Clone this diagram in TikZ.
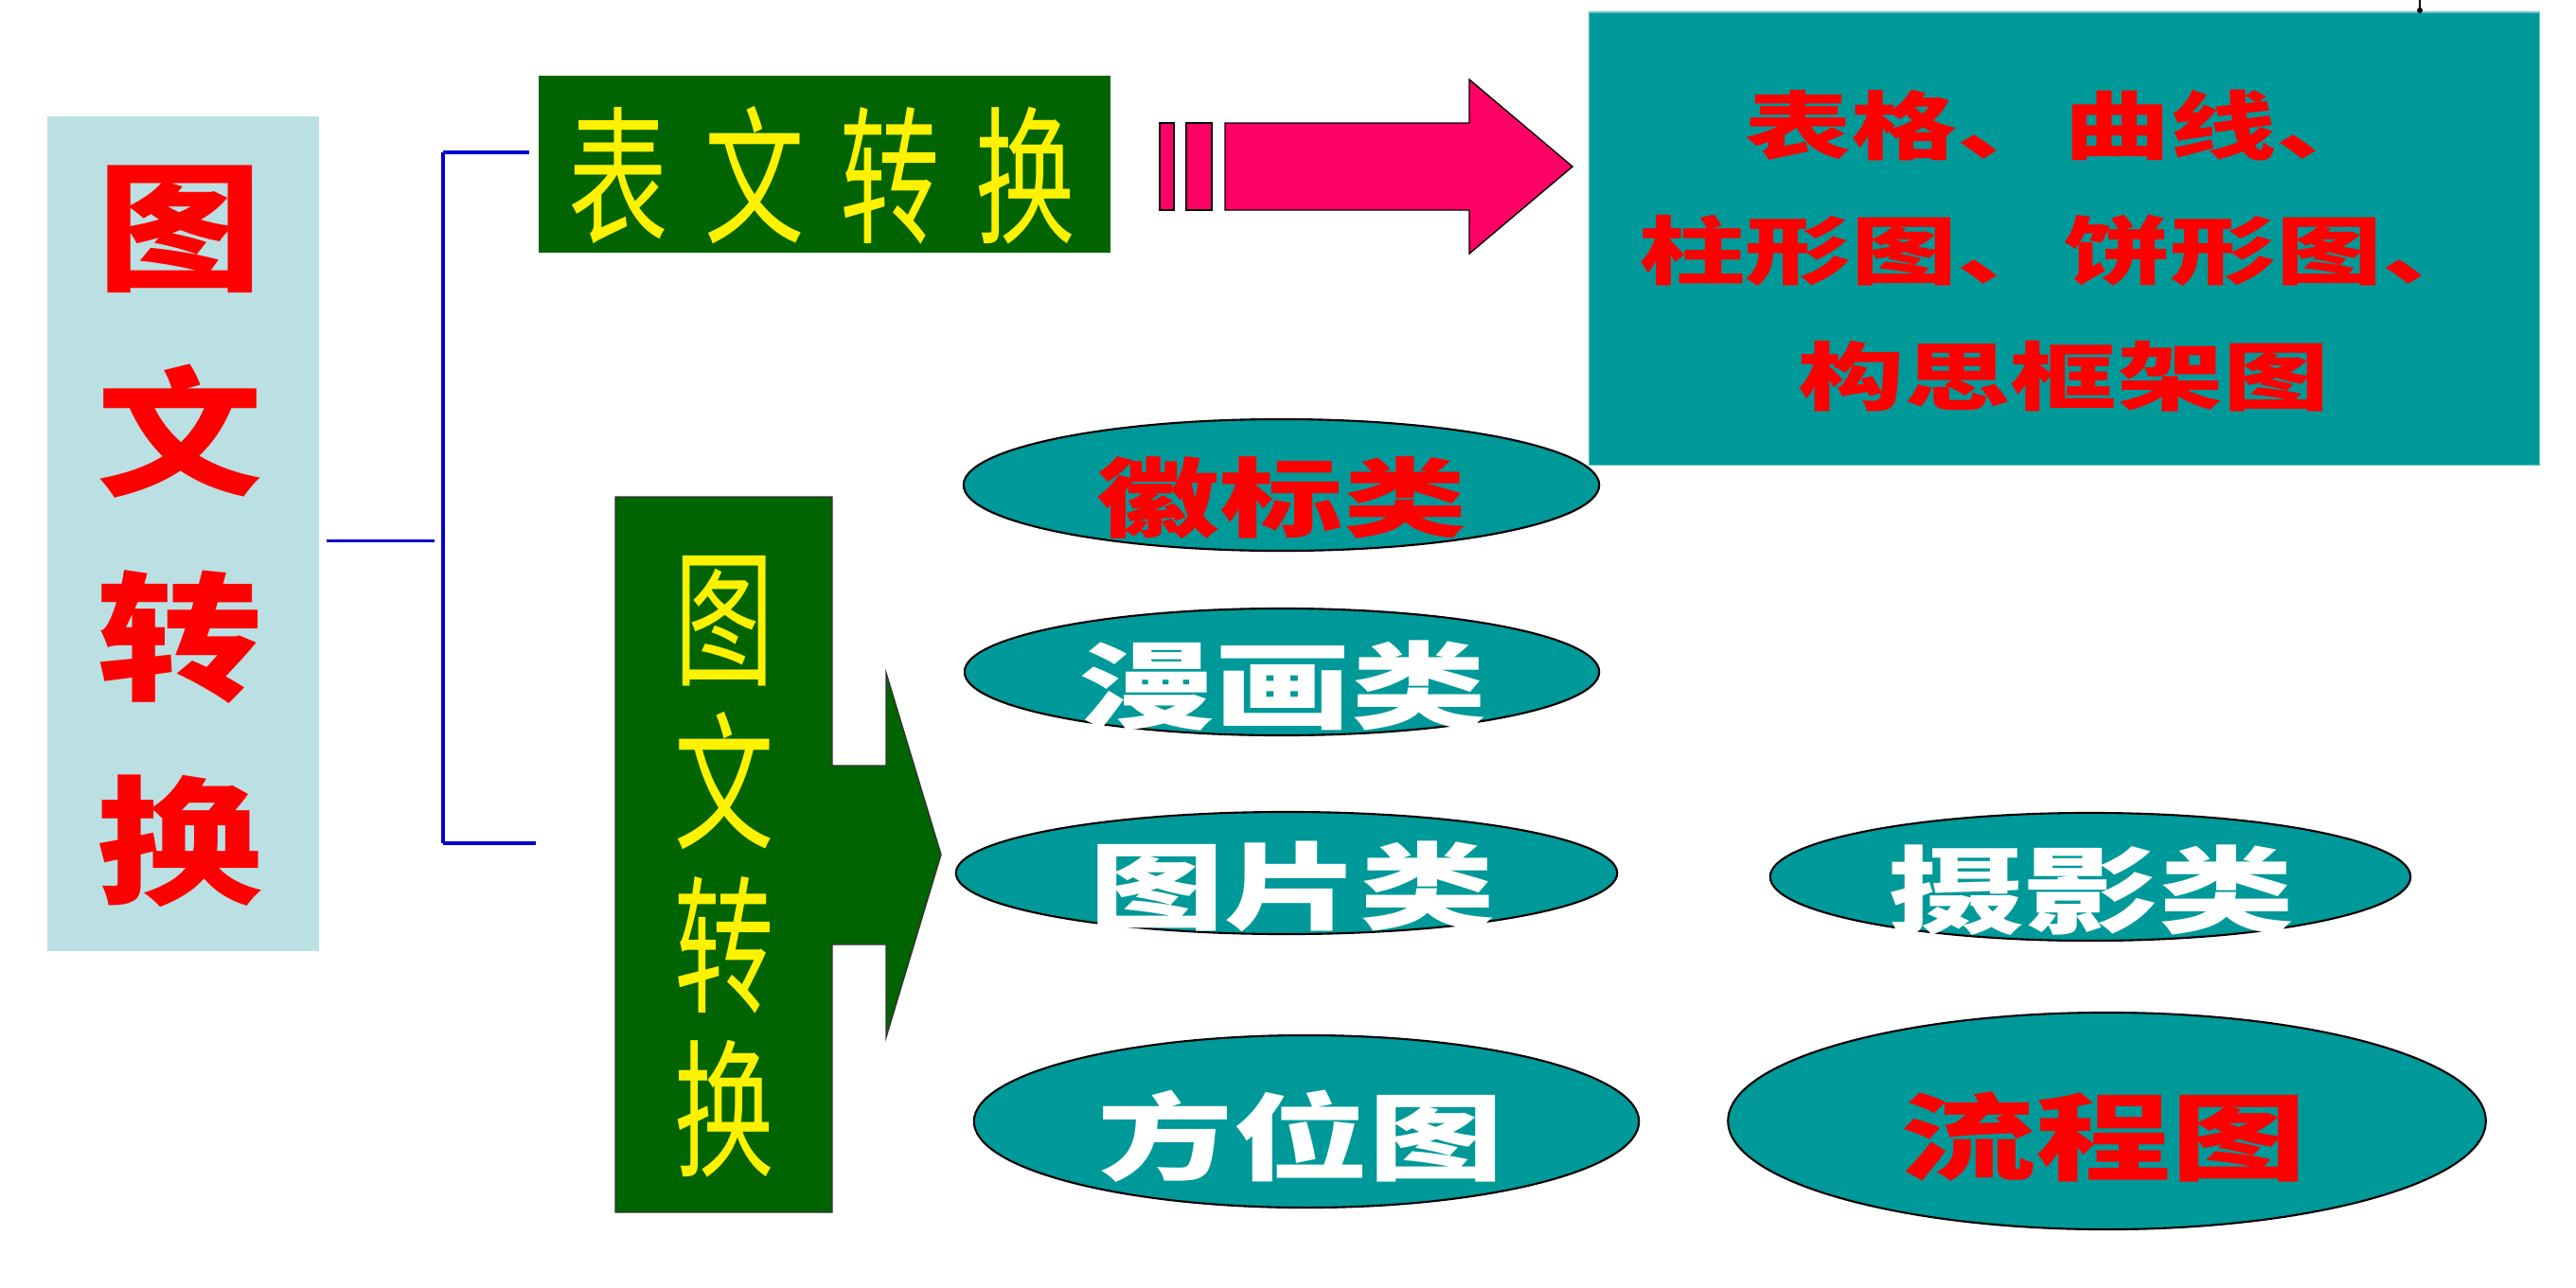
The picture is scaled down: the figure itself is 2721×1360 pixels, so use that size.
\documentclass[tikz,border=0pt]{standalone}
\usepackage{fontspec}
\usetikzlibrary{shapes.geometric}
\newfontfamily\cjk{Noto Sans CJK SC}
\definecolor{lightbox}{HTML}{BBE0E3}
\definecolor{dkgreen}{HTML}{006400}
\definecolor{tealfill}{HTML}{009999}
\definecolor{pinkarrow}{HTML}{FF0066}
\definecolor{bracketblue}{HTML}{0000CC}
\newcommand{\vsq}[1]{\scalebox{1}[0.7]{#1}}
\newcommand{\hsq}[1]{\scalebox{0.67}[1]{#1}}
\begin{document}
\begin{tikzpicture}[x=0.01cm,y=-0.01cm,
  every node/.style={inner sep=0pt,outer sep=0pt},
  bracketline/.style={draw=bracketblue,line width=1pt},
  oval/.style={ellipse,fill=tealfill,draw=black,line width=0.6pt},
  ovaltext/.style={font=\cjk\bfseries\fontsize{40.7pt}{44pt}\selectfont},
  yellowtext/.style={text=yellow,font=\cjk\fontsize{44.7pt}{49.2pt}\selectfont},
  pinkshape/.style={fill=pinkarrow,draw=black,line width=0.4pt}
]
\useasboundingbox (0,0) rectangle (2721,1360);
\fill[white] (0,0) rectangle (2721,1360);

% left box
\node[fill=lightbox,minimum width=2.87cm,minimum height=8.82cm] (leftbox) at (193.5,564) {};
\node[text=red,align=center,font=\cjk\bfseries\fontsize{49.8pt}{61.5pt}\selectfont] (lefttext) at (190,567)
  {\scalebox{1}[0.84]{图}\\\scalebox{1}[0.84]{文}\\\scalebox{1}[0.84]{转}\\\scalebox{1}[0.84]{换}};

% bracket
\coordinate (bmid0) at (345,571);
\coordinate (bmid1) at (459,571);
\coordinate (btop0) at (468,161);
\coordinate (bbot0) at (468,891);
\coordinate (btop1) at (559,161);
\coordinate (bbot1) at (566,891);
\draw[bracketline,line width=0.85pt] (bmid0) -- (bmid1);
\draw[bracketline,line width=1.3pt] (btop0) -- (bbot0);
\draw[bracketline] (btop0) -- (btop1);
\draw[bracketline] (bbot0) -- (bbot1);

% green box 1
\node[fill=dkgreen,minimum width=6.04cm,minimum height=1.87cm] (gbox1) at (871,173.5) {};
\node[yellowtext] (gtext1) at (868.5,185.5)
  {\hsq{表}\hspace{0.38cm}\hsq{文}\hspace{0.38cm}\hsq{转}\hspace{0.38cm}\hsq{换}};

% pink arrow
\draw[pinkshape] (1225,130) rectangle (1240,222);
\draw[pinkshape] (1253,130) rectangle (1280,222);
\draw[pinkshape] (1294,130) -- (1552,130) -- (1552,84) -- (1661,176) -- (1552,268) -- (1552,222) -- (1294,222) -- cycle;

% teal box
\node[fill=tealfill,draw=tealfill!60,line width=0.4pt,minimum width=10.03cm,minimum height=4.785cm] (tealbox) at (2180.5,252.25) {};
\node[text=red,align=center,font=\cjk\bfseries\fontsize{31.9pt}{37.8pt}\selectfont] (tealtext) at (2180,265)
  {\vsq{表格、曲线、}\\\vsq{柱形图、饼形图、}\\\vsq{构思框架图}};
\draw[black,line width=0.5pt] (2556,0) -- (2556,12);
\fill[black] (2556,11) circle (3);

% green box 2 with arrow
\draw[fill=dkgreen,draw=black!80,line width=0.4pt] (650,525) -- (879,525) -- (879,809) -- (936,809) -- (936,711) -- (994,903) -- (936,1096) -- (936,998) -- (879,998) -- (879,1281) -- (650,1281) -- cycle;
\node (gbox2) at (764.5,903) {};
\node[yellowtext,align=center] (gtext2) at (765,916)
  {\hsq{图}\\\hsq{文}\\\hsq{转}\\\hsq{换}};

% ovals
\node[oval,minimum width=6.71cm,minimum height=1.39cm] (o1) at (1353.5,512.5) {};
\node[oval,minimum width=6.70cm,minimum height=1.34cm] (o2) at (1354,710) {};
\node[oval,minimum width=6.98cm,minimum height=1.29cm] (o3) at (1359,922.5) {};
\node[oval,minimum width=6.76cm,minimum height=1.35cm] (o4) at (2208,926.5) {};
\node[oval,minimum width=7.02cm,minimum height=1.82cm] (o5) at (1380,1185) {};
\node[oval,minimum width=8.00cm,minimum height=2.29cm] (o6) at (2225.5,1184.5) {};

\node[ovaltext,text=red,font=\cjk\bfseries\fontsize{37pt}{40pt}\selectfont] (t1) at (1354,526.5) {\vsq{徽标类}};
\node[ovaltext,text=white] (t2) at (1355.5,725) {\vsq{漫画类}};
\node[ovaltext,text=white] (t3) at (1365,937) {\vsq{图片类}};
\node[ovaltext,text=white] (t4) at (2209,941) {\vsq{摄影类}};
\node[ovaltext,text=white] (t5) at (1374,1200.5) {\vsq{方位图}};
\node[ovaltext,text=red] (t6) at (2222,1201) {\vsq{流程图}};
\end{tikzpicture}
\end{document}
